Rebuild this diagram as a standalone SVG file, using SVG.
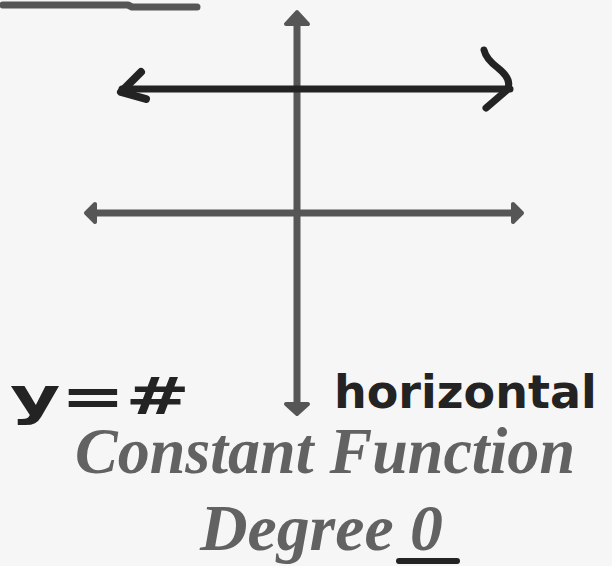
<svg xmlns="http://www.w3.org/2000/svg" width="612" height="566" viewBox="0 0 612 566">
<style>
.gray{stroke:#565656;stroke-linecap:round;stroke-linejoin:round;fill:none}
.grayfill{fill:#565656;stroke:#565656;stroke-linejoin:round;stroke-width:4}
.ink{stroke:#232323;stroke-linecap:round;stroke-linejoin:round;fill:none}
.hand{font-family:"DejaVu Sans","Liberation Sans",sans-serif;font-weight:bold;fill:#232323}
.title{font-family:"Liberation Serif","Times New Roman",serif;font-weight:bold;font-style:italic;fill:#626262}
</style>
<rect width="612" height="566" fill="#f6f6f6"/>
<g id="top-bar">
<path class="gray" stroke-width="7" d="M3 5 L128 5 L132 7 L197 7"/>
</g>
<g id="y-axis">
<line class="gray" stroke-width="7" x1="297" y1="20" x2="297" y2="406"/>
<polygon class="grayfill" points="297,12 308,24 286,24"/>
<polygon class="grayfill" points="297,414 308,404 286,404"/>
</g>
<g id="gray-line">
<line class="gray" stroke-width="7" x1="92" y1="213" x2="516" y2="213"/>
<polygon class="grayfill" points="86,213 95,204 95,222"/>
<polygon class="grayfill" points="522,213 513,204 513,222"/>
</g>
<g id="black-line">
<line class="ink" stroke-width="7" x1="122" y1="89" x2="510" y2="89"/>
<path class="ink" stroke-width="8" d="M141 72 L121 92 L146 99"/>
<path class="ink" stroke-width="7" d="M484 50 Q486 59 498 68 Q513 80 507 90 L486 108"/>
</g>
<g id="label-y">
<text class="hand" x="10" y="414" font-size="52" textLength="180" lengthAdjust="spacingAndGlyphs">y=#</text>
</g>
<g id="label-horizontal">
<text class="hand" x="334" y="408" font-size="46">horizontal</text>
</g>
<g id="title">
<text class="title" x="325" y="473" font-size="65" text-anchor="middle" textLength="500" lengthAdjust="spacingAndGlyphs">Constant Function</text>
<text class="title" x="200" y="550" font-size="65" textLength="243" lengthAdjust="spacingAndGlyphs">Degree 0</text>
<line class="ink" stroke-width="6" x1="399" y1="561" x2="457" y2="561"/>
</g>
</svg>
